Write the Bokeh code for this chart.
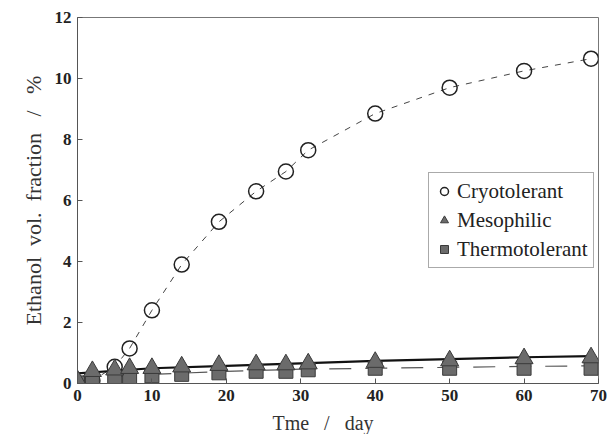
from bokeh.plotting import figure
from bokeh.models import Legend, LegendItem, Range1d, FixedTicker
from bokeh.embed import file_html
from bokeh.resources import INLINE

# ---- data ----
days = [0, 2, 5, 7, 10, 14, 19, 24, 28, 31, 40, 50, 60, 69]
cryo = [0.0, 0.1, 0.55, 1.15, 2.4, 3.9, 5.3, 6.3, 6.95, 7.65, 8.85, 9.7, 10.25, 10.65]
meso = [0.1, 0.4, 0.45, 0.5, 0.5, 0.55, 0.6, 0.62, 0.62, 0.65, 0.7, 0.75, 0.82, 0.85]
thermo = [0.02, 0.05, 0.15, 0.2, 0.25, 0.3, 0.35, 0.4, 0.4, 0.45, 0.5, 0.5, 0.5, 0.5]
fit_days = [0, 10, 20, 30, 40, 50, 60, 69]
meso_fit = [0.33, 0.5, 0.58, 0.66, 0.74, 0.8, 0.86, 0.9]
thermo_fit = [0.15, 0.3, 0.4, 0.47, 0.5, 0.53, 0.56, 0.58]
x_ticks = [0, 10, 20, 30, 40, 50, 60, 70]
y_ticks = [0, 2, 4, 6, 8, 10, 12]

SERIF = "Liberation Serif"
NB = "\u00a0"

p = figure(width=608, height=434, output_backend="svg", toolbar_location=None,
           x_range=Range1d(0, 70), y_range=Range1d(0, 12),
           min_border_left=77, min_border_right=10, min_border_top=17, min_border_bottom=51)
p.frame_width = 521
p.frame_height = 366

p.xgrid.visible = False
p.ygrid.visible = False
p.outline_line_color = "#777777"
p.outline_line_width = 1

xa = p.xaxis[0]
ya = p.yaxis[0]
for ax in (xa, ya):
    ax.major_label_text_font = SERIF
    ax.major_label_text_font_style = "bold"
    ax.major_label_text_font_size = "17px"
    ax.major_label_text_color = "#222222"
    ax.axis_label_text_font = SERIF
    ax.axis_label_text_font_style = "normal"
    ax.axis_label_text_color = "#333333"
    ax.axis_line_color = "#555555"
    ax.major_tick_in = 5
    ax.major_tick_out = 0
    ax.major_tick_line_color = "#555555"
    ax.minor_tick_line_color = None

xa.axis_label_text_font_size = "20px"
ya.axis_label_text_font_size = "22px"
xa.ticker = FixedTicker(ticks=x_ticks)
ya.ticker = FixedTicker(ticks=y_ticks)
xa.axis_label = "Tme" + NB * 3 + "/" + NB * 3 + "day" + NB * 6
ya.axis_label = "Ethanol" + NB * 2 + "vol." + NB * 2 + "fraction" + NB * 3 + "/" + NB * 3 + "%"
xa.major_label_standoff = 6
ya.major_label_standoff = 6
xa.axis_label_standoff = 8
ya.axis_label_standoff = 6

# lines
p.line(days, cryo, line_color="#444444", line_width=1, line_dash="6 7")
p.line(fit_days, thermo_fit, line_color="#555555", line_width=1.2, line_dash="22 14")
p.line(fit_days, meso_fit, line_color="#111111", line_width=2.2)

# markers
r_c = p.scatter(days, cryo, marker="circle", size=15, fill_color="white", fill_alpha=0.0,
                line_color="#222222", line_width=1.5)
r_t = p.scatter(days, thermo, marker="square", size=14, fill_color="#6b6b6b",
                line_color="#3a3a3a", line_width=1)
r_m = p.scatter(days, meso, marker="triangle", size=18, fill_color="#6b6b6b",
                line_color="#3a3a3a", line_width=1)

legend = Legend(items=[LegendItem(label="Cryotolerant", renderers=[r_c]),
                       LegendItem(label="Mesophilic", renderers=[r_m]),
                       LegendItem(label="Thermotolerant", renderers=[r_t])],
                location=(351, 115))
legend.label_text_font = SERIF
legend.label_text_font_size = "21px"
legend.label_text_color = "#222222"
legend.border_line_color = "#555555"
legend.border_line_width = 1
legend.background_fill_color = "white"
legend.background_fill_alpha = 1.0
legend.glyph_width = 20
legend.glyph_height = 26
legend.label_standoff = 3
legend.label_height = 26
legend.spacing = 3
legend.padding = 5
legend.margin = 0
p.add_layout(legend, "center")

open("out.html", "w").write(file_html(p, INLINE))
